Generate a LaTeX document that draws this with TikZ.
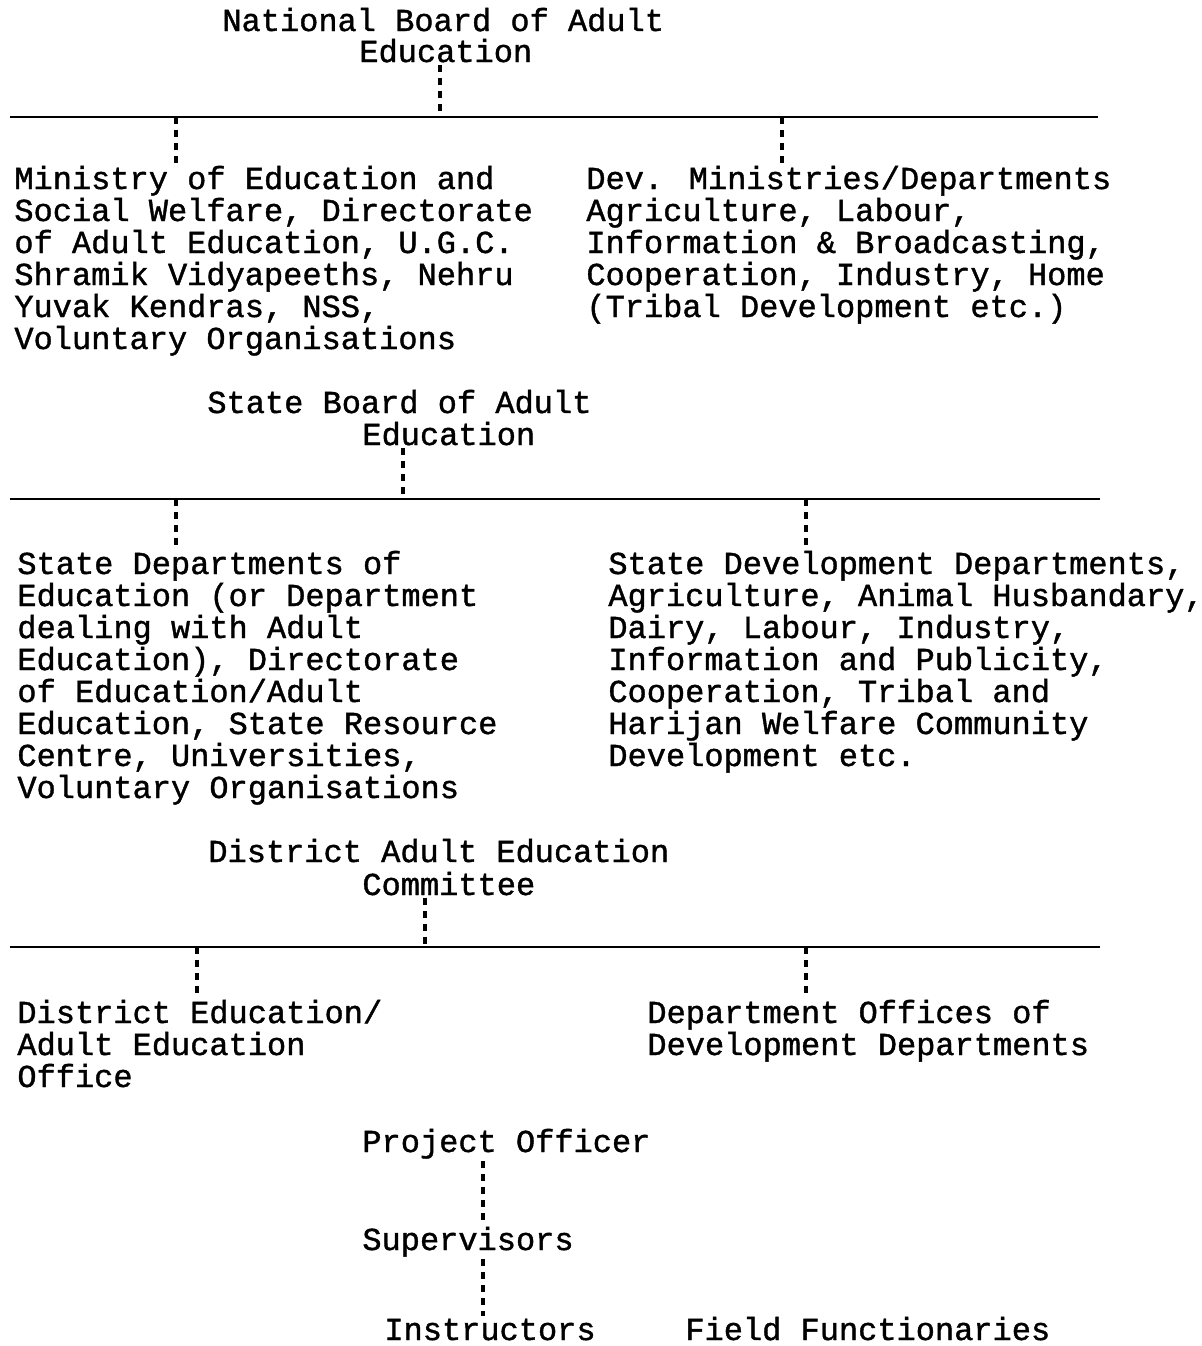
\documentclass[tikz,border=0pt]{standalone}
\usepackage{fontspec}
\setmainfont{Liberation Mono}[BoldFont=Liberation Mono,BoldFeatures={FakeBold=1.2}]
\usepackage{tikz}

\newcommand{\chartfont}{\fontsize{16}{16}\bfseries\selectfont}

\begin{document}
\begin{tikzpicture}[x=0.5pt,y=-0.5pt,
    lbl/.style={inner sep=1pt,align=left,anchor=base west,font=\chartfont},
    rule/.style={line width=1.2pt},
    conn/.style={line width=1.8pt,dash pattern=on 3.5pt off 3pt}]
  \useasboundingbox (0,0) rectangle (1202,1346);

  \node[lbl] (nat1) at (220,31) {National Board of Adult};
  \node[lbl] (nat2) at (357,62) {Education};
  \coordinate (nl-w) at (10,117);
  \coordinate (nl-e) at (1098,117);
  \coordinate (nl-c) at (440,117);
  \coordinate (nl-a) at (176,117);
  \coordinate (nl-b) at (782,117);
  \draw[rule] (nl-w) -- (nl-e);
  % multi-line nodes sit on the baseline of their last line
  \node[lbl] (min) at (12,349) {Ministry of Education and\\Social Welfare, Directorate\\of Adult Education, U.G.C.\\Shramik Vidyapeeths, Nehru\\Yuvak Kendras, NSS,\\Voluntary Organisations};
  \node[lbl] (dev) at (584,317) {Dev. Ministries/Departments\\Agriculture, Labour,\\Information \& Broadcasting,\\Cooperation, Industry, Home\\(Tribal Development etc.)};
  \draw[conn] (nl-c |- nat2.south) -- (nl-c);
  \draw[conn] (nl-a) -- (nl-a |- min.north);
  \draw[conn] (nl-b) -- (nl-b |- dev.north);

  \node[lbl] (sbd1) at (205,413) {State Board of Adult};
  \node[lbl] (sbd2) at (360,445) {Education};
  \coordinate (sl-w) at (10,499);
  \coordinate (sl-e) at (1100,499);
  \coordinate (sl-c) at (403,499);
  \coordinate (sl-a) at (176,499);
  \coordinate (sl-b) at (806,499);
  \draw[rule] (sl-w) -- (sl-e);
  \node[lbl] (sdep) at (15,798) {State Departments of\\Education (or Department\\dealing with Adult\\Education), Directorate\\of Education/Adult\\Education, State Resource\\Centre, Universities,\\Voluntary Organisations};
  \node[lbl] (sdev) at (606,766) {State Development Departments,\\Agriculture, Animal Husbandary,\\Dairy, Labour, Industry,\\Information and Publicity,\\Cooperation, Tribal and\\Harijan Welfare Community\\Development etc.};
  \draw[conn] (sl-c |- sbd2.south) -- (sl-c);
  \draw[conn] (sl-a) -- (sl-a |- sdep.north);
  \draw[conn] (sl-b) -- (sl-b |- sdev.north);

  \node[lbl] (dae1) at (206,862) {District Adult Education};
  \node[lbl] (dae2) at (360,895) {Committee};
  \coordinate (dl-w) at (10,947);
  \coordinate (dl-e) at (1100,947);
  \coordinate (dl-c) at (425,947);
  \coordinate (dl-a) at (197,947);
  \coordinate (dl-b) at (806,947);
  \draw[rule] (dl-w) -- (dl-e);
  \node[lbl] (ded) at (15,1087) {District Education/\\Adult Education\\Office};
  \node[lbl] (dop) at (645,1055) {Department Offices of\\Development Departments};
  \draw[conn] (dl-c |- dae2.south) -- (dl-c);
  \draw[conn] (dl-a) -- (dl-a |- ded.north);
  \draw[conn] (dl-b) -- (dl-b |- dop.north);

  \node[lbl] (po) at (360,1152) {Project Officer};
  \node[lbl] (sup) at (360,1250) {Supervisors};
  \node[lbl] (ins) at (382,1340) {Instructors};
  \node[lbl] (ff) at (683,1340) {Field Functionaries};
  \coordinate (pl) at (483,1200);
  \draw[conn] (po.south -| pl) -- (sup.north -| pl);
  \draw[conn] (sup.south -| pl) -- (ins.north -| pl);
\end{tikzpicture}
\end{document}
